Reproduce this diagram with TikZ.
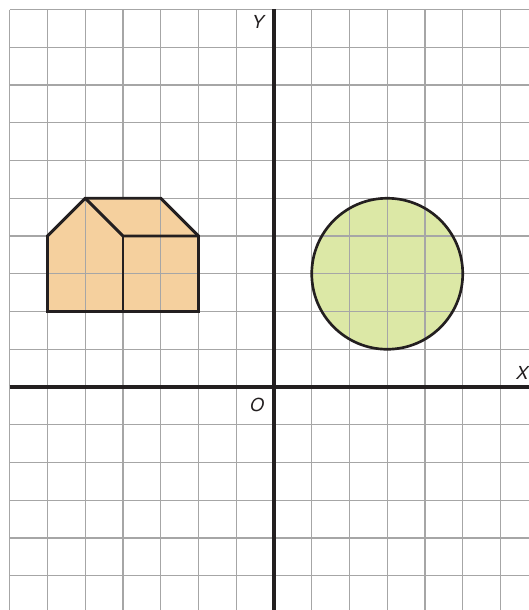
\documentclass[tikz,border=0pt]{standalone}
\usepackage{fontspec}
\setmainfont{TeX Gyre Heros}
\definecolor{gridgray}{HTML}{A6A6A6}
\definecolor{ink}{HTML}{231F20}
\definecolor{housefill}{HTML}{F5D09E}
\definecolor{circfill}{HTML}{DCE8A6}
\begin{document}
\begin{tikzpicture}[
  gridline/.style={draw=gridgray, line width=1.1pt},
  axisline/.style={draw=ink, line width=2.3pt},
  shapeline/.style={draw=ink, line width=2.2pt, line join=miter},
  axislabel/.style={font=\fontsize{13.5}{16}\selectfont\itshape, text=ink, inner sep=0pt}
]
\useasboundingbox (-7.258,-5.907) rectangle (6.755,10.252);
\clip (-7.258,-5.907) rectangle (6.755,10.252);
% grid
\foreach \x in {-7,...,6} \draw[gridline] (\x,10) -- (\x,-6);
\foreach \y in {-5,...,10} \draw[gridline] (-7,\y) -- (6.8,\y);
% house
\fill[housefill] (-6,2) -- (-6,4) -- (-5,5) -- (-3,5) -- (-2,4) -- (-2,2) -- cycle;
\draw[gridline] (-5,2) -- (-5,5) (-3,2) -- (-3,5) (-6,3) -- (-2,3);
\draw[shapeline] (-6,2) -- (-6,4) -- (-5,5) -- (-3,5) -- (-2,4) -- (-2,2) -- cycle;
\draw[shapeline] (-5,5) -- (-4,4) -- (-2,4);
\draw[shapeline] (-4,4) -- (-4,2);
% circle
\fill[circfill] (3,3) circle (2);
\draw[gridline] (2,1.1) -- (2,4.9) (3,1) -- (3,5) (4,1.1) -- (4,4.9)
  (1.1,2) -- (4.9,2) (1,3) -- (5,3) (1.1,4) -- (4.9,4);
\draw[draw=ink, line width=2pt] (3,3) circle (2);
% axes
\draw[axisline] (-7,0) -- (6.8,0);
\draw[axisline] (0,10.01) -- (0,-6);
% labels
\node[axislabel] (ylab) at (-0.42,9.67) {Y};
\node[axislabel] (olab) at (-0.45,-0.48) {O};
\node[axislabel] (xlab) at (6.58,0.37) {X};
\end{tikzpicture}
\end{document}
